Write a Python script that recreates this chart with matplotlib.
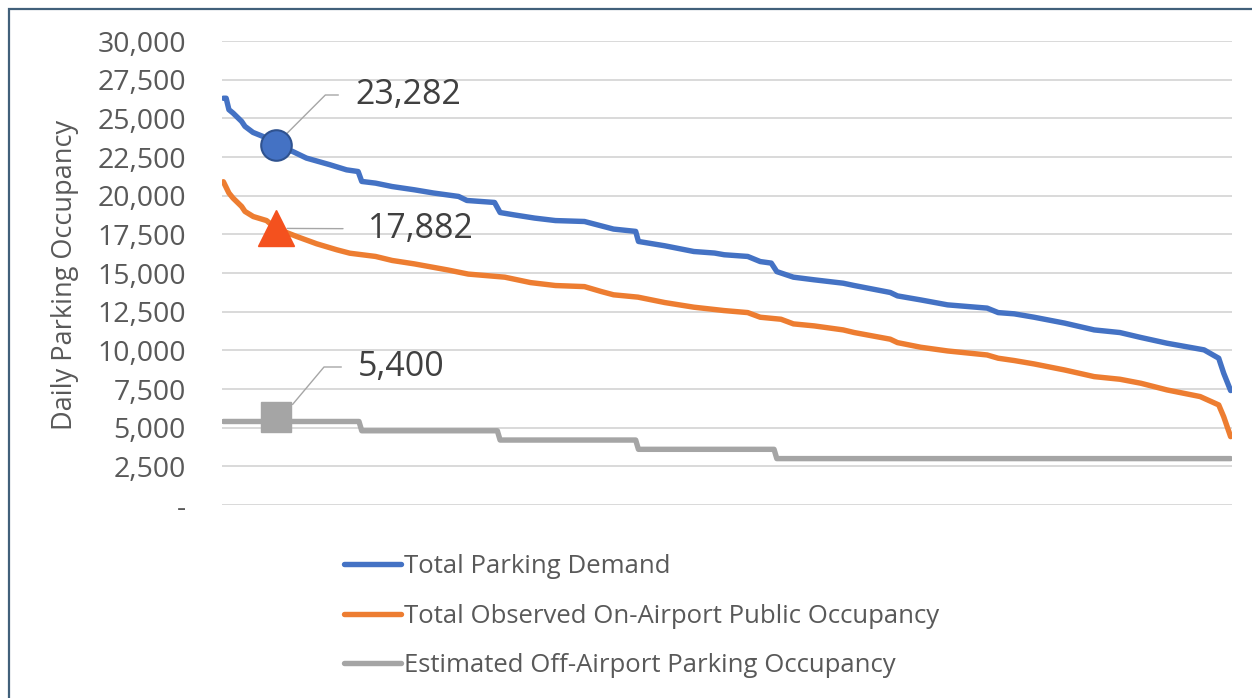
import matplotlib
matplotlib.use("Agg")
import matplotlib.pyplot as plt
from matplotlib.patches import Rectangle
from matplotlib.ticker import FuncFormatter

plt.rcParams['font.family'] = ['Open Sans', 'DejaVu Sans']

# Total parking demand (day rank, occupancy)
demand_days = [0, 1, 2, 3.5, 6.6, 7.8, 10.7, 14.3, 19, 25, 30, 38.5, 44.5, 48.7, 50, 55, 61,
               69, 76, 85, 88, 98, 100, 105, 112.5, 120, 130.5, 135, 141, 149, 150, 159.5,
               170, 177.5, 181, 189.5, 194, 198, 200, 206, 213.5, 224, 228, 241, 243.6, 252,
               261.7, 276, 280, 285.8, 293, 304, 314.7, 324, 331.6, 341, 354.4, 359.7,
               361.5, 364]
demand_vals = [26300, 26300, 25560, 25340, 24800, 24480, 24090, 23830, 23282, 22860, 22430,
               22000, 21670, 21560, 20920, 20810, 20590, 20380, 20170, 19950, 19690, 19560,
               18910, 18760, 18550, 18390, 18330, 18120, 17840, 17690, 17040, 16760, 16390,
               16290, 16180, 16070, 15740, 15640, 15090, 14730, 14560, 14340, 14190, 13740,
               13520, 13260, 12940, 12730, 12440, 12360, 12140, 11760, 11320, 11150, 10830,
               10460, 10030, 9490, 8520, 7400]

# Observed on-airport public occupancy
onair_days = [0, 2, 3.5, 6.6, 7.8, 10.8, 15.6, 19, 26.5, 33.7, 41, 45.7, 55, 61, 69, 81,
              88.5, 101.7, 111, 120, 130.5, 136.6, 141, 149.8, 159.5, 170, 181, 189.5, 194,
              201.5, 206, 213.5, 224, 228, 241, 243.6, 252, 261.7, 276, 280, 285.8, 293, 304,
              314.7, 324, 331.6, 341, 353, 359.7, 361.5, 364]
onair_vals = [20900, 20170, 19840, 19300, 18980, 18650, 18390, 17882, 17360, 16890, 16500,
              16280, 16070, 15810, 15590, 15200, 14930, 14730, 14380, 14190, 14120, 13800,
              13590, 13440, 13090, 12790, 12570, 12440, 12140, 12010, 11710, 11580, 11320,
              11150, 10720, 10500, 10200, 9960, 9700, 9490, 9340, 9120, 8730, 8300, 8130,
              7870, 7440, 7010, 6470, 5710, 4420]

# Estimated off-airport occupancy (stepped)
offair_days = [0, 49, 50, 99, 100, 149, 150, 199, 200, 364]
offair_vals = [5400, 5400, 4800, 4800, 4200, 4200, 3600, 3600, 3000, 3000]

# Design day callouts
design_day = 19
design_vals = [23282, 17882, 5400]
design_labels = ['23,282', '17,882', '5,400']

labels = ['Total Parking Demand', 'Total Observed On-Airport Public Occupancy',
          'Estimated Off-Airport Parking Occupancy']
colors = ['#4472C4', '#ED7D31', '#A5A5A5']
text_col = '#595959'

W, H = 1252, 698
fig = plt.figure(figsize=(W / 100, H / 100), dpi=100)
ax = fig.add_axes([222 / W, 1 - 505 / H, (1232 - 222) / W, (505 - 41) / H])

# outer chart border
fig.patches.append(Rectangle((9 / W, -0.05), 1.2, 1 - 9 / H + 0.05, transform=fig.transFigure,
                             fill=False, edgecolor='#41607A', lw=1.6))

for d, v, c, lab in [(demand_days, demand_vals, colors[0], labels[0]),
                     (onair_days, onair_vals, colors[1], labels[1]),
                     (offair_days, offair_vals, colors[2], labels[2])]:
    ax.plot(d, v, color=c, lw=3.9, solid_joinstyle='round', solid_capstyle='round',
            label=lab, zorder=3)

# markers
ax.plot(design_day, design_vals[0], 'o', ms=22, mfc='#4472C4', mec='#2F528F', mew=1.5, zorder=5)
ax.plot(design_day, design_vals[1], '^', ms=26, mfc='#F4511E', mec='#F4511E', zorder=5)
ax.plot(design_day, design_vals[2] + 300, 's', ms=21, mfc='#A5A5A5', mec='#A5A5A5', zorder=5)

# callouts with leader lines (shrinkA = gap at the text end)
lead = dict(arrowstyle='-', color='#A6A6A6', lw=1.0, shrinkA=10, shrinkB=0)
ax.annotate(design_labels[0], xy=(design_day + 4, design_vals[0] + 750),
            xytext=(355 / W, 1 - 95 / H), textcoords='figure fraction',
            fontsize=24.5, color='#404040', va='center', ha='left',
            arrowprops=dict(lead, connectionstyle='angle,angleA=0,angleB=45,rad=0'), zorder=4)
ax.annotate(design_labels[1], xy=(design_day + 4, design_vals[1]),
            xytext=(368 / W, 1 - 229 / H), textcoords='figure fraction',
            fontsize=24.5, color='#404040', va='center', ha='left',
            arrowprops=dict(lead, shrinkA=16), zorder=4)
ax.annotate(design_labels[2], xy=(design_day + 6, design_vals[2] + 1100),
            xytext=(358 / W, 1 - 367 / H), textcoords='figure fraction',
            fontsize=24.5, color='#404040', va='center', ha='left',
            arrowprops=dict(lead, connectionstyle='angle,angleA=0,angleB=50,rad=0'), zorder=4)

ax.set_xlim(-0.5, 364.5)
ax.set_ylim(0, 30000)
ax.set_yticks(range(0, 30001, 2500))
ax.yaxis.set_major_formatter(FuncFormatter(lambda v, p: '-' if v == 0 else f'{int(v):,}'))
ax.set_xticks([])
ax.grid(axis='y', color='#D9D9D9', lw=1.4)
ax.set_axisbelow(True)
for s in ax.spines.values():
    s.set_visible(False)
ax.tick_params(axis='y', length=0, pad=26, labelsize=20.5, labelcolor=text_col)

fig.text(65 / W, 1 - 275 / H, 'Daily Parking Occupancy', rotation=90, fontsize=19.5,
         color=text_col, ha='center', va='center')

leg = fig.legend(loc='upper left', bbox_to_anchor=(321 / W, 1 - 531 / H), frameon=False,
                 fontsize=18.5, labelcolor=text_col, handlelength=2.2, handletextpad=0.12,
                 labelspacing=0.95)
for ln in leg.get_lines():
    ln.set_linewidth(3.9)

fig.savefig('out.png', dpi=100)
